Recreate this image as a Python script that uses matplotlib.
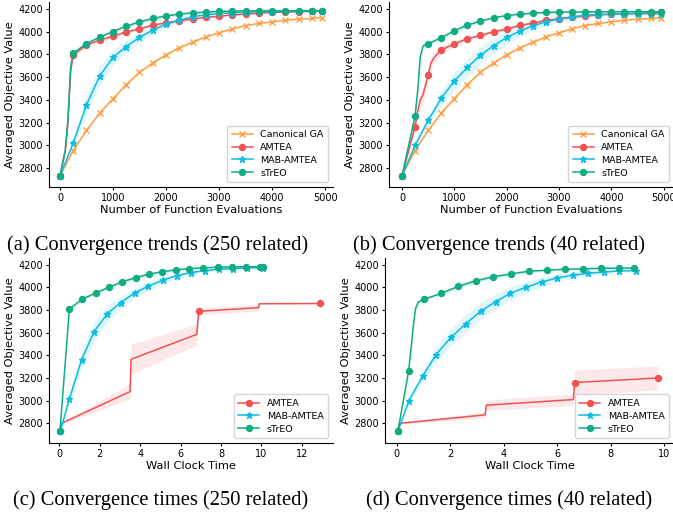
import matplotlib
matplotlib.use("Agg")
import matplotlib.pyplot as plt

## DONNEES

# nombre d'evaluations (marqueurs tous les 250)
evals = [0, 250, 500, 750, 1000, 1250, 1500, 1750, 2000, 2250, 2500,
         2750, 3000, 3250, 3500, 3750, 4000, 4250, 4500, 4750, 4950]

ga_y = [2730, 2953, 3130, 3284, 3410, 3534, 3642, 3724, 3795, 3857, 3906,
        3953, 3989, 4024, 4053, 4071, 4085, 4100, 4109, 4115, 4121]
ga_s = [0, 8, 10, 12, 14, 15, 15, 15, 14, 13, 12,
        11, 10, 9, 8, 7, 6, 6, 5, 5, 5]

# (a) 250 related
a_amtea_x = [0, 100, 150, 200] + evals[1:]
a_amtea_y = [2730, 2950, 3200, 3650, 3792, 3883, 3924, 3959, 3997, 4024, 4056, 4077,
             4094, 4112, 4124, 4135, 4147, 4153, 4162, 4168, 4172, 4175, 4177, 4178]
a_amtea_s = [0, 20, 30, 30, 20, 15, 15, 15, 14, 13, 12, 11,
             10, 9, 8, 7, 6, 6, 5, 5, 5, 5, 5, 5]

a_mab_y = [2730, 3020, 3355, 3610, 3774, 3868, 3950, 4012, 4065, 4100, 4130,
           4147, 4159, 4165, 4171, 4174, 4176, 4177, 4178, 4179, 4180]
a_mab_s = [0, 40, 80, 85, 70, 55, 45, 35, 28, 22, 18,
           14, 12, 10, 8, 7, 6, 5, 5, 5, 5]

a_streo_x = [0, 100, 150, 200] + evals[1:]
a_streo_y = [2730, 2960, 3220, 3680, 3810, 3895, 3950, 4000, 4047, 4085, 4115, 4138,
             4153, 4165, 4171, 4177, 4180, 4181, 4182, 4183, 4183, 4183, 4184, 4184]
a_streo_s = [0, 20, 30, 30, 15, 12, 14, 16, 18, 18, 16, 14,
             12, 10, 9, 8, 7, 6, 6, 5, 5, 5, 5, 5]

# (b) 40 related
b_amtea_x = [0, 250, 300, 350, 400, 450, 500, 550, 600, 650, 700] + evals[3:]
b_amtea_y = [2730, 3165, 3300, 3400, 3440, 3530, 3616, 3720, 3760, 3790, 3815,
             3838, 3893, 3937, 3966, 3998, 4022, 4054, 4074, 4098, 4112, 4127,
             4136, 4147, 4153, 4158, 4162, 4165, 4168]
b_amtea_s = [0, 40, 60, 70, 70, 70, 65, 60, 50, 45, 40,
             35, 25, 22, 20, 18, 16, 15, 14, 13, 12, 11,
             10, 9, 8, 7, 6, 6, 6]

b_mab_y = [2730, 2998, 3218, 3413, 3565, 3685, 3793, 3875, 3948, 4004, 4050,
           4085, 4112, 4129, 4144, 4150, 4153, 4155, 4156, 4157, 4158]
b_mab_s = [0, 30, 50, 65, 75, 80, 75, 70, 60, 50, 40,
           32, 25, 20, 16, 13, 11, 10, 9, 8, 8]

b_streo_x = [0, 250, 300, 350, 400, 450] + evals[2:]
b_streo_y = [2730, 3258, 3480, 3780, 3870, 3885, 3893, 3946, 4007, 4057, 4092,
             4121, 4141, 4153, 4162, 4168, 4171, 4172, 4173, 4174, 4174, 4175,
             4175, 4175, 4175]
b_streo_s = [0, 30, 60, 50, 30, 20, 18, 18, 20, 20, 18,
             16, 14, 12, 11, 10, 9, 8, 8, 7, 7, 6,
             6, 6, 6]

# (c) temps, 250 related
c_amtea_t = [0.05, 0.1, 3.5, 3.55, 6.8, 6.9, 9.85, 9.9, 12.9]
c_amtea_y = [2730, 2800, 3080, 3365, 3585, 3788, 3820, 3855, 3857]
c_amtea_s = [0, 10, 65, 130, 95, 30, 30, 5, 5]

c_mab_t = [0.05, 0.5, 1.1, 1.72, 2.38, 3.04, 3.73, 4.4, 5.15, 5.84, 6.52,
           7.2, 7.9, 8.6, 9.3, 10.1]
c_mab_y = [2730, 3017, 3358, 3610, 3768, 3865, 3950, 4009, 4065, 4103, 4130,
           4147, 4159, 4165, 4171, 4174]
c_mab_s = [0, 40, 80, 85, 70, 55, 45, 35, 28, 22, 18, 14, 12, 10, 8, 7]

c_streo_t = [0.03, 0.5, 1.14, 1.8, 2.46, 3.1, 3.78, 4.44, 5.1, 5.76, 6.43,
             7.13, 7.84, 8.53, 9.24, 9.93, 10.08]
c_streo_y = [2730, 3810, 3895, 3950, 4000, 4047, 4085, 4115, 4138, 4153, 4165,
             4171, 4177, 4180, 4181, 4182, 4183]
c_streo_s = [0, 15, 12, 14, 16, 18, 18, 16, 14, 12, 10, 9, 8, 7, 6, 6, 5]

# (d) temps, 40 related
d_amtea_t = [0.04, 0.1, 3.3, 3.35, 6.6, 6.65, 9.75]
d_amtea_y = [2730, 2800, 2875, 2960, 3010, 3160, 3200]
d_amtea_s = [0, 10, 25, 45, 50, 110, 105]

d_mab_t = [0.04, 0.45, 0.97, 1.47, 2.03, 2.59, 3.14, 3.7, 4.23, 4.83, 5.42,
           5.99, 6.58, 7.16, 7.76, 8.32, 8.94]
d_mab_y = [2730, 2998, 3218, 3407, 3560, 3680, 3790, 3873, 3946, 4000, 4047,
           4082, 4106, 4124, 4135, 4144, 4147]
d_mab_s = [0, 30, 50, 65, 75, 80, 75, 70, 60, 50, 40, 32, 25, 20, 16, 13, 11]

d_streo_t = [0.04, 0.44, 0.55, 0.62, 0.7, 0.8, 1.01, 1.66, 2.29, 2.95, 3.61,
             4.27, 4.93, 5.6, 6.28, 6.95, 7.63, 8.32, 8.88]
d_streo_y = [2730, 3258, 3500, 3665, 3810, 3870, 3893, 3946, 4007, 4057, 4092,
             4118, 4141, 4150, 4159, 4162, 4168, 4168, 4170]
d_streo_s = [0, 30, 50, 55, 40, 25, 18, 18, 20, 20, 18, 16, 14, 12, 10, 9, 8, 7, 7]

ORANGE = "#ff9f43"
RED = "#ee5253"
CYAN = "#0abde3"
GREEN = "#10ac84"

plt.rcParams["font.family"] = "DejaVu Sans"

fig = plt.figure(figsize=(6.73, 5.16), dpi=100)


def trace(ax, x, y, s, couleur, marqueur, label, marques=None, ms=4.3):
    bas = [v - e for v, e in zip(y, s)]
    haut = [v + e for v, e in zip(y, s)]
    ax.fill_between(x, bas, haut, color=couleur, alpha=0.13, linewidth=0)
    if marques is None:
        marques = [i for i in range(len(x))]
    ax.plot(x, y, "-", color=couleur, marker=marqueur, markevery=marques,
            markersize=ms, linewidth=1.1, label=label)


def marques_evals(x):
    return [i for i in range(len(x)) if x[i] % 250 == 0 or x[i] == 4950]


def habillage(ax, xlabel):
    ax.spines["top"].set_visible(False)
    ax.spines["right"].set_visible(False)
    ax.tick_params(labelsize=7, length=2.5, width=0.8, pad=2)
    ax.set_yticks([2800, 3000, 3200, 3400, 3600, 3800, 4000, 4200])
    ax.set_xlabel(xlabel, fontsize=8.2, labelpad=1)
    ax.set_ylabel("Averaged Objective Value", fontsize=8.2, labelpad=2)
    ax.legend(loc="lower right", fontsize=6.8, handlelength=2.2,
              borderpad=0.5, labelspacing=0.4)


H = 185 / 516

# (a)
ax = fig.add_axes([49 / 673, 1 - 187 / 516, 284 / 673, H])
trace(ax, evals, ga_y, ga_s, ORANGE, "x", "Canonical GA")
trace(ax, a_amtea_x, a_amtea_y, a_amtea_s, RED, "o", "AMTEA", marques_evals(a_amtea_x))
trace(ax, evals, a_mab_y, a_mab_s, CYAN, "*", "MAB-AMTEA", ms=4.8)
trace(ax, a_streo_x, a_streo_y, a_streo_s, GREEN, "o", "sTrEO", marques_evals(a_streo_x))
ax.set_xlim(-207, 5150)
ax.set_ylim(2633, 4260)
habillage(ax, "Number of Function Evaluations")

# (b)
ax = fig.add_axes([389 / 673, 1 - 187 / 516, 285 / 673, H])
trace(ax, evals, ga_y, ga_s, ORANGE, "x", "Canonical GA")
trace(ax, b_amtea_x, b_amtea_y, b_amtea_s, RED, "o", "AMTEA", marques_evals(b_amtea_x))
trace(ax, evals, b_mab_y, b_mab_s, CYAN, "*", "MAB-AMTEA", ms=4.8)
trace(ax, b_streo_x, b_streo_y, b_streo_s, GREEN, "o", "sTrEO", marques_evals(b_streo_x))
ax.set_xlim(-248, 5197)
ax.set_ylim(2633, 4260)
habillage(ax, "Number of Function Evaluations")

# (c)
ax = fig.add_axes([49 / 673, 1 - 443 / 516, 284 / 673, H])
trace(ax, c_amtea_t, c_amtea_y, c_amtea_s, RED, "o", "AMTEA", [0, 5, 8])
trace(ax, c_mab_t, c_mab_y, c_mab_s, CYAN, "*", "MAB-AMTEA", ms=4.8)
trace(ax, c_streo_t, c_streo_y, c_streo_s, GREEN, "o", "sTrEO")
ax.set_xlim(-0.51, 13.54)
ax.set_ylim(2627, 4258)
habillage(ax, "Wall Clock Time")

# (d)
ax = fig.add_axes([385 / 673, 1 - 443 / 516, 289 / 673, H])
trace(ax, d_amtea_t, d_amtea_y, d_amtea_s, RED, "o", "AMTEA", [0, 5, 6])
trace(ax, d_mab_t, d_mab_y, d_mab_s, CYAN, "*", "MAB-AMTEA", ms=4.8)
trace(ax, d_streo_t, d_streo_y, d_streo_s, GREEN, "o", "sTrEO",
      [0, 1] + list(range(6, len(d_streo_t))))
ax.set_xlim(-0.44, 10.36)
ax.set_ylim(2627, 4258)
habillage(ax, "Wall Clock Time")

# legendes des sous-figures
legendes = [(158, 245, "(a) Convergence trends (250 related)"),
            (499, 245, "(b) Convergence trends (40 related)"),
            (161, 500, "(c) Convergence times (250 related)"),
            (509, 500, "(d) Convergence times (40 related)")]
for x, y, texte in legendes:
    fig.text(x / 673, 1 - y / 516, texte, ha="center", va="center",
             family="Liberation Serif", fontsize=14.8)

fig.savefig("out.png", dpi=100)
